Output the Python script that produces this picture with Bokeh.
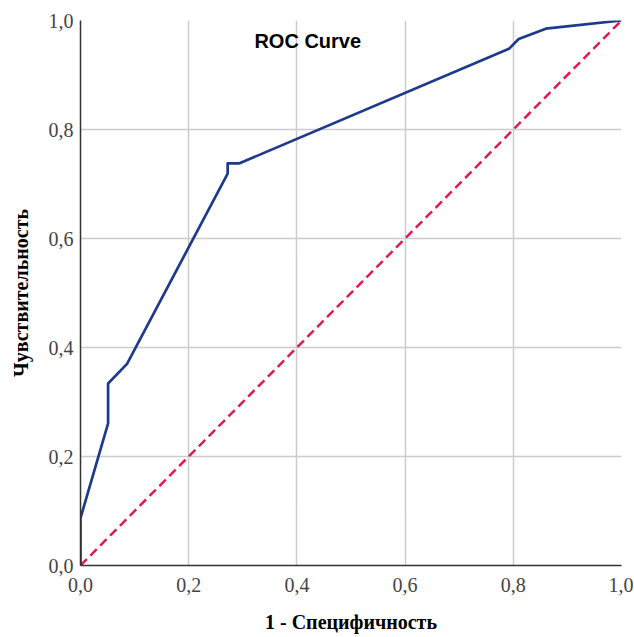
from bokeh.plotting import figure
from bokeh.models import Range1d, FixedTicker
from bokeh.core.properties import value
from bokeh.embed import file_html
from bokeh.resources import INLINE

# ROC curve data (1 - specificity, sensitivity)
fpr = [0.0, 0.0, 0.051, 0.051, 0.086, 0.272, 0.272, 0.294, 0.792, 0.810, 0.860, 1.0]
tpr = [0.0, 0.087, 0.261, 0.334, 0.370, 0.719, 0.738, 0.738, 0.948, 0.966, 0.985, 1.0]

# reference diagonal
ref_x = [0.0, 1.0]
ref_y = [0.0, 1.0]

ticks = [0.0, 0.2, 0.4, 0.6, 0.8, 1.0]
tick_labels = ["0,0", "0,2", "0,4", "0,6", "0,8", "1,0"]

title_text = ["ROC Curve"]
title_x = [0.42]
title_y = [0.962]

p = figure(frame_width=541, frame_height=545, output_backend="svg", toolbar_location=None,
           x_range=Range1d(0, 1), y_range=Range1d(0, 1),
           min_border_left=80, min_border_right=12, min_border_top=20, min_border_bottom=72)
p.outline_line_color = None
p.background_fill_color = "white"
p.border_fill_color = "white"

overrides = {t: l for t, l in zip(ticks, tick_labels)}
for ax in (p.xaxis[0], p.yaxis[0]):
    ax.ticker = FixedTicker(ticks=ticks)
    ax.major_label_overrides = overrides
    ax.major_tick_in = 0
    ax.major_tick_out = 0
    ax.minor_tick_in = 0
    ax.minor_tick_out = 0
    ax.axis_line_color = "#333333"
    ax.axis_line_width = 1.5
    ax.major_label_text_font = "Liberation Serif"
    ax.major_label_text_font_size = "20px"
    ax.major_label_text_color = "#444444"
    ax.axis_label_text_font = "Liberation Serif"
    ax.axis_label_text_font_size = "20px"
    ax.axis_label_text_font_style = "bold"
    ax.axis_label_text_color = "black"

p.xaxis.axis_label = "1 - Специфичность"
p.yaxis.axis_label = "Чувствительность"
p.xaxis.major_label_standoff = 12
p.xaxis.axis_label_standoff = 16
p.yaxis.major_label_standoff = 7
p.yaxis.axis_label_standoff = 14

for g in (p.xgrid[0], p.ygrid[0]):
    g.ticker = FixedTicker(ticks=ticks)
    g.grid_line_color = "#cccccc"
    g.grid_line_width = 1.5

p.line(ref_x, ref_y, line_color="#e3194f", line_width=2.5, line_dash="9 5")
p.line(fpr, tpr, line_color="#1e3a8a", line_width=2.7, line_join="round")

p.text(x=title_x, y=title_y, text=title_text, text_font=value("Liberation Sans"),
       text_font_style="bold", text_font_size="20px", text_color="black",
       text_align="center", text_baseline="middle")

open("out.html", "w").write(file_html(p, INLINE))
